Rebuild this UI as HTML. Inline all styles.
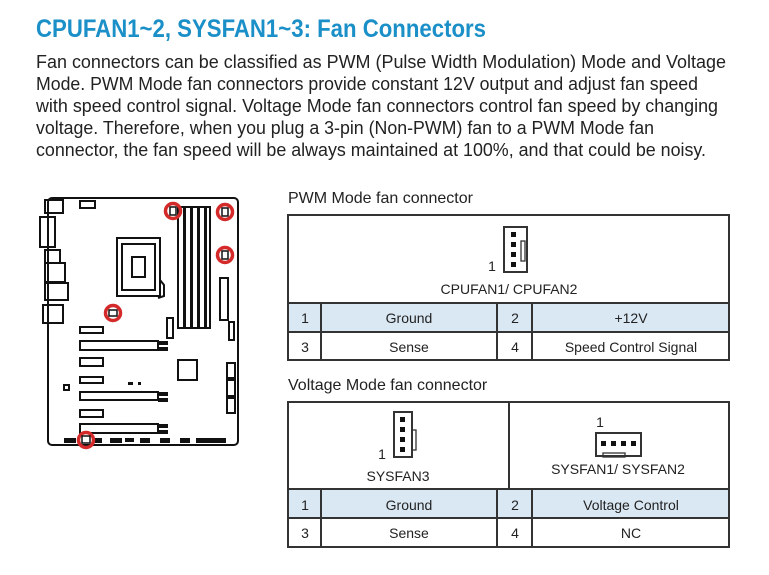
<!DOCTYPE html>
<html><head><meta charset="utf-8"><style>
html,body{margin:0;padding:0;background:#fff;}
svg{display:block;font-family:"Liberation Sans",sans-serif;}
</style></head><body>
<svg width="769" height="575" viewBox="0 0 769 575" xmlns="http://www.w3.org/2000/svg">
<text x="36" y="37" font-size="25" font-weight="bold" fill="#1b8fc7" textLength="450" lengthAdjust="spacingAndGlyphs">CPUFAN1~2, SYSFAN1~3: Fan Connectors</text>
<g font-size="18" fill="#222">
<text x="36" y="68" textLength="690" lengthAdjust="spacingAndGlyphs">Fan connectors can be classified as PWM (Pulse Width Modulation) Mode and Voltage</text>
<text x="36" y="90" textLength="662" lengthAdjust="spacingAndGlyphs">Mode. PWM Mode fan connectors provide constant 12V output and adjust fan speed</text>
<text x="36" y="112" textLength="682" lengthAdjust="spacingAndGlyphs">with speed control signal. Voltage Mode fan connectors control fan speed by changing</text>
<text x="36" y="134" textLength="618" lengthAdjust="spacingAndGlyphs">voltage. Therefore, when you plug a 3-pin (Non-PWM) fan to a PWM Mode fan</text>
<text x="36" y="156" textLength="670" lengthAdjust="spacingAndGlyphs">connector, the fan speed will be always maintained at 100%, and that could be noisy.</text>
</g>

<!-- Motherboard -->
<g fill="none" stroke="#111" stroke-width="2">
<rect x="48" y="198" width="190" height="247" rx="4"/>
<rect x="45" y="200" width="18" height="13"/>
<rect x="80" y="201" width="15" height="7"/>
<rect x="40" y="217" width="15" height="30"/>
<rect x="45" y="250" width="15" height="13"/>
<rect x="45" y="263" width="20" height="19"/>
<rect x="45" y="283" width="23" height="17"/>
<rect x="43" y="305" width="20" height="18"/>
<rect x="117" y="238" width="43" height="58"/>
<rect x="122" y="244" width="33" height="46"/>
<rect x="132" y="257" width="13" height="20"/>
<path d="M160 280 L164 285 L164 296 L158 298"/>
<rect x="178" y="207" width="32" height="121"/>
<rect x="220" y="278" width="8" height="42"/>
<rect x="229" y="322" width="5" height="18"/>
<rect x="167" y="318" width="6" height="20"/>
<rect x="80" y="327" width="23" height="6"/>
<rect x="80" y="341" width="78" height="9"/>
<rect x="80" y="358" width="23" height="8"/>
<rect x="80" y="377" width="23" height="6"/>
<rect x="80" y="392" width="78" height="8"/>
<rect x="80" y="410" width="23" height="7"/>
<rect x="80" y="424" width="78" height="9"/>
<rect x="178" y="360" width="19" height="20"/>
<rect x="227" y="363" width="8" height="15"/>
<rect x="227" y="380" width="8" height="16"/>
<rect x="227" y="398" width="8" height="15"/>
<rect x="64" y="385" width="5" height="5"/>
</g>
<g fill="#111">
<rect x="183" y="207" width="3" height="121"/><rect x="190" y="207" width="3" height="121"/><rect x="197" y="207" width="3" height="121"/><rect x="204" y="207" width="3" height="121"/>
<rect x="158" y="341" width="10" height="4"/><rect x="158" y="347" width="10" height="4"/>
<rect x="158" y="392" width="10" height="4"/><rect x="158" y="398" width="10" height="4"/>
<rect x="158" y="424" width="10" height="4"/><rect x="158" y="430" width="10" height="4"/>
<rect x="128" y="382" width="5" height="3"/><rect x="138" y="382" width="3" height="3"/>
<rect x="64" y="438" width="12" height="5"/><rect x="92" y="438" width="10" height="5"/><rect x="110" y="438" width="12" height="5"/><rect x="125" y="438" width="9" height="4"/><rect x="140" y="438" width="10" height="5"/><rect x="160" y="438" width="10" height="5"/><rect x="180" y="438" width="10" height="5"/><rect x="196" y="438" width="30" height="5"/>
</g>
<g fill="none" stroke="#d42a2a" stroke-width="3.5">
<circle cx="173" cy="211" r="7.5"/>
<circle cx="225" cy="212" r="7.5"/>
<circle cx="225" cy="255" r="7.5"/>
<circle cx="113" cy="313" r="7.5"/>
<circle cx="86" cy="440" r="7.5"/>
</g>
<g fill="none" stroke="#111" stroke-width="1.5">
<rect x="170" y="207" width="6" height="8"/><rect x="222" y="208" width="6" height="8"/><rect x="222" y="251" width="6" height="8"/><rect x="109" y="310" width="8" height="6"/><rect x="82" y="436" width="8" height="7"/>
</g>

<!-- PWM table -->
<text x="288" y="203" font-size="16" fill="#222">PWM Mode fan connector</text>
<rect x="288" y="303" width="441" height="29" fill="#dae8f3"/>
<g fill="none" stroke="#333" stroke-width="2">
<rect x="288" y="215" width="441" height="145"/>
<line x1="288" y1="303" x2="729" y2="303"/>
<line x1="288" y1="332" x2="729" y2="332"/>
<line x1="321" y1="303" x2="321" y2="360"/>
<line x1="497" y1="303" x2="497" y2="360"/>
<line x1="532" y1="303" x2="532" y2="360"/>
<rect x="504" y="227" width="23" height="45"/>
<rect x="521" y="241" width="4" height="20" stroke-width="1.3"/>
</g>
<g fill="#111"><rect x="511" y="232" width="5" height="5"/><rect x="511" y="242" width="5" height="5"/><rect x="511" y="252" width="5" height="5"/><rect x="511" y="262" width="5" height="5"/></g>
<g font-size="14" fill="#222" text-anchor="middle">
<text x="492" y="271">1</text>
<text x="509" y="294">CPUFAN1/ CPUFAN2</text>
<text x="305" y="323">1</text><text x="409" y="323">Ground</text><text x="515" y="323">2</text><text x="631" y="323">+12V</text>
<text x="305" y="352">3</text><text x="409" y="352">Sense</text><text x="515" y="352">4</text><text x="631" y="352">Speed Control Signal</text>
</g>

<!-- Voltage table -->
<text x="288" y="390" font-size="16" fill="#222">Voltage Mode fan connector</text>
<rect x="288" y="489" width="441" height="29" fill="#dae8f3"/>
<g fill="none" stroke="#333" stroke-width="2">
<rect x="288" y="402" width="441" height="145"/>
<line x1="509" y1="402" x2="509" y2="489"/>
<line x1="288" y1="489" x2="729" y2="489"/>
<line x1="288" y1="518" x2="729" y2="518"/>
<line x1="321" y1="489" x2="321" y2="547"/>
<line x1="497" y1="489" x2="497" y2="547"/>
<line x1="532" y1="489" x2="532" y2="547"/>
<rect x="394" y="412" width="18" height="45"/>
<rect x="596" y="433" width="45" height="23"/>
<rect x="603" y="453" width="22" height="4" stroke-width="1.3"/>
</g>
<g fill="none" stroke="#333" stroke-width="1.3"><rect x="412" y="430" width="4" height="20"/></g>
<g fill="#111">
<rect x="400" y="417" width="5" height="5"/><rect x="400" y="427" width="5" height="5"/><rect x="400" y="437" width="5" height="5"/><rect x="400" y="447" width="5" height="5"/>
<rect x="601" y="441" width="5" height="5"/><rect x="611" y="441" width="5" height="5"/><rect x="621" y="441" width="5" height="5"/><rect x="631" y="441" width="5" height="5"/>
</g>
<g font-size="14" fill="#222" text-anchor="middle">
<text x="382" y="459">1</text>
<text x="398" y="481">SYSFAN3</text>
<text x="600" y="427">1</text>
<text x="618" y="474">SYSFAN1/ SYSFAN2</text>
<text x="305" y="510">1</text><text x="409" y="510">Ground</text><text x="515" y="510">2</text><text x="631" y="510">Voltage Control</text>
<text x="305" y="538">3</text><text x="409" y="538">Sense</text><text x="515" y="538">4</text><text x="631" y="538">NC</text>
</g>
</svg>
</body></html>
